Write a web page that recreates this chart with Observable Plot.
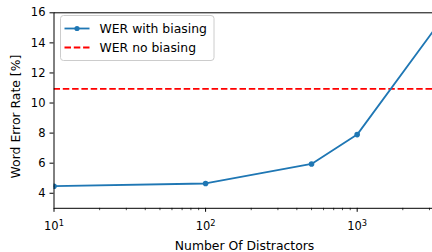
<!DOCTYPE html>
<html>
<head>
<meta charset="utf-8">
<script src="https://cdn.jsdelivr.net/npm/d3@7"></script>
<script src="https://cdn.jsdelivr.net/npm/@observablehq/plot@0.6"></script>
<style>
  html, body { margin: 0; padding: 0; background: #fff; }
  #chart { width: 432px; height: 252px; overflow: hidden; }
</style>
</head>
<body>
<div id="chart"></div>
<script>
// Data
const distractors = [10, 100, 500, 1000, 5000];
const werWithBiasing = [4.47, 4.65, 5.95, 7.9, 17.5];
const werNoBiasing = 10.94;
const xMajorTicks = [10, 100, 1000];
const xMinorTicks = [20, 30, 40, 50, 60, 70, 80, 90, 200, 300, 400, 500, 600, 700, 800, 900, 2000, 3000];
const yTicks = [4, 6, 8, 10, 12, 14, 16];
const seriesLabels = ["WER with biasing", "WER no biasing"];
const xLabel = "Number Of Distractors";
const yLabel = "Word Error Rate [%]";

const data = distractors.map((d, i) => ({x: d, y: werWithBiasing[i]}));
const fmt = v => "10^" + Math.round(Math.log10(v));

const blue = "#1f77b4";
const dash = "6.5,2.8";
const plot = Plot.plot({
  width: 432,
  height: 252,
  marginLeft: 53.5,
  marginRight: 0,
  marginTop: 12.3,
  marginBottom: 44.2,
  style: {fontFamily: "DejaVu Sans", fontSize: "11.5px", color: "#000", background: "#fff", overflow: "hidden"},
  x: {type: "log", domain: [10, 3140]},
  y: {domain: [3, 16]},
  marks: [
    Plot.ruleY([werNoBiasing], {stroke: "#ff0000", strokeWidth: 1.8, strokeDasharray: dash, clip: true}),
    Plot.line(data, {x: "x", y: "y", stroke: blue, strokeWidth: 1.8, clip: true}),
    Plot.dot(data, {x: "x", y: "y", fill: blue, r: 2.8, stroke: null, clip: true}),
    Plot.ruleX([10], {stroke: "#000", strokeWidth: 1}),
    Plot.ruleY([3, 16], {stroke: "#000", strokeWidth: 1}),
    Plot.axisY({ticks: yTicks, tickSize: 4, tickPadding: 4.5, tickFormat: d => String(d), label: null}),
    Plot.axisX({ticks: xMajorTicks, tickSize: 4, tickPadding: 10, tickFormat: fmt, label: null, className: "xmajor"}),
    Plot.axisX({ticks: xMinorTicks, tickSize: 2.4, tickFormat: () => "", label: null, strokeWidth: 0.7}),
    Plot.text([yLabel], {frameAnchor: "left", rotate: -90, textAnchor: "middle", lineAnchor: "middle",
      dx: -37.8, dy: 6, fontSize: 12.4, fill: "#000"}),
    Plot.text([xLabel], {frameAnchor: "bottom", textAnchor: "middle", lineAnchor: "middle",
      dx: 1.3, dy: 37.7, fontSize: 12.4, fill: "#000"})
  ]
});
document.getElementById("chart").appendChild(plot);

// Render "10^n" tick labels as base + superscript (like matplotlib mathtext)
d3.select(plot).selectAll("text").each(function () {
  const t = d3.select(this);
  const s = t.text();
  const m = /^10\^(\d+)$/.exec(s);
  if (!m) return;
  t.text(null);
  t.append("tspan").text("10");
  t.append("tspan").attr("font-size", "0.72em").attr("dy", "-0.55em").text(m[1]);
});

// Legend (matplotlib style), built from the series labels
const svg = d3.select(plot);
const lg = svg.append("g").attr("font-family", "DejaVu Sans").attr("font-size", 12.4).attr("text-anchor", "start");
lg.append("rect").attr("x", 60.5).attr("y", 15.5).attr("width", 153.5).attr("height", 45)
  .attr("rx", 3).attr("fill", "#fff").attr("fill-opacity", 0.8).attr("stroke", "#ccc");
const rows = [
  {label: seriesLabels[0], color: blue, dash: null, marker: true, y: 28.5},
  {label: seriesLabels[1], color: "#ff0000", dash: dash, marker: false, y: 47.5}
];
rows.forEach(r => {
  lg.append("line").attr("x1", 64.5).attr("x2", 89.5).attr("y1", r.y).attr("y2", r.y)
    .attr("stroke", r.color).attr("stroke-width", 1.8).attr("stroke-dasharray", r.dash);
  if (r.marker) lg.append("circle").attr("cx", 77).attr("cy", r.y).attr("r", 2.6).attr("fill", r.color);
  lg.append("text").attr("x", 99.5).attr("y", r.y).attr("dy", "0.35em").attr("fill", "#000").text(r.label);
});
</script>
</body>
</html>
